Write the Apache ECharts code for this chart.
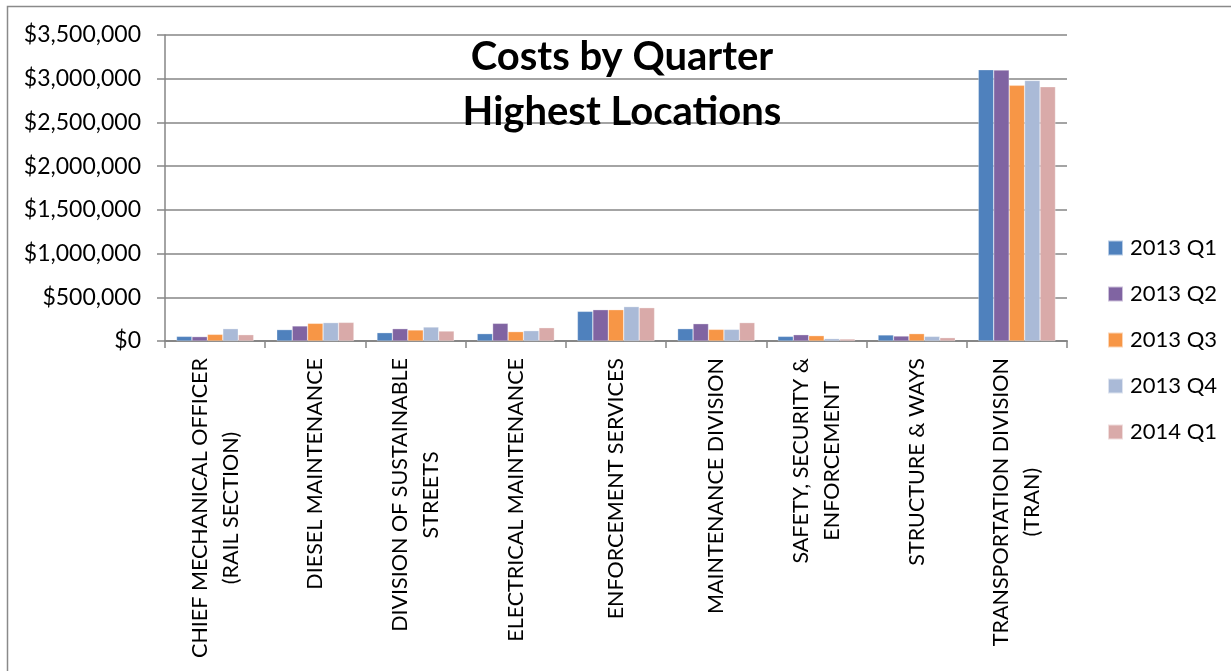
<!DOCTYPE html>
<html>
<head>
<meta charset="utf-8">
<script src="https://cdn.jsdelivr.net/npm/echarts@6/dist/echarts.min.js"></script>
<style>
html,body{margin:0;padding:0;background:#fff;}
#chart{width:1231px;height:671px;}
</style>
</head>
<body>
<div id="chart"></div>
<script>
const categories = [
  'CHIEF MECHANICAL OFFICER\n(RAIL SECTION)',
  'DIESEL MAINTENANCE',
  'DIVISION OF SUSTAINABLE\nSTREETS',
  'ELECTRICAL MAINTENANCE',
  'ENFORCEMENT SERVICES',
  'MAINTENANCE DIVISION',
  'SAFETY, SECURITY &\nENFORCEMENT',
  'STRUCTURE & WAYS',
  'TRANSPORTATION DIVISION\n(TRAN)'
];
const seriesNames = ['2013 Q1', '2013 Q2', '2013 Q3', '2013 Q4', '2014 Q1'];
const q1_2013 = [53000, 130000, 95000, 84000, 339000, 141000, 53000, 69000, 3103000];
const q2_2013 = [50000, 172000, 141000, 202000, 358000, 198000, 72000, 57000, 3099000];
const q3_2013 = [76000, 202000, 126000, 107000, 358000, 133000, 61000, 84000, 2924000];
const q4_2013 = [141000, 210000, 160000, 118000, 393000, 133000, 27000, 53000, 2980000];
const q1_2014 = [72000, 213000, 114000, 152000, 381000, 210000, 23000, 38000, 2908000];
const yMin = 0, yMax = 3500000, yInterval = 500000;
const titleText = 'Costs by Quarter\nHighest Locations';

const colors = ['#4F81BD', '#8064A2', '#F79646', '#AABAD7', '#D9AAA9'];
const allValues = [q1_2013, q2_2013, q3_2013, q4_2013, q1_2014];
const FONT = 'Lato, "Open Sans", sans-serif';

const chart = echarts.init(document.getElementById('chart'));
chart.setOption({
  animation: false,
  backgroundColor: '#fff',
  color: colors,
  graphic: [
    {
      type: 'rect', z: -10, silent: true,
      shape: { x: 7.5, y: 6.5, width: 1300, height: 700 },
      style: { fill: 'none', stroke: '#8a8a8a', lineWidth: 1.5 }
    },
    {
      type: 'text', z: 100, x: 622, y: 30,
      style: {
        text: titleText, fill: '#000', align: 'center', verticalAlign: 'top',
        font: 'bold 40px ' + FONT, lineHeight: 55
      }
    }
  ],
  legend: {
    orient: 'vertical',
    left: 1107, top: 237, padding: 0,
    itemWidth: 15, itemHeight: 15, itemGap: 24,
    icon: 'rect',
    textStyle: { fontFamily: FONT, fontSize: 22, color: '#000', padding: [0, 0, 0, 2] },
    data: seriesNames
  },
  grid: { left: 165, right: 164, top: 35, bottom: 330, containLabel: false },
  xAxis: {
    type: 'category',
    data: categories,
    axisLine: { lineStyle: { color: '#868686', width: 2 } },
    axisTick: { show: true, length: 7, alignWithLabel: false, lineStyle: { color: '#868686', width: 1.5 } },
    axisLabel: {
      interval: 0, rotate: 90, margin: 17,
      formatter: v => v.split('\n').map(s => '{c|' + s + '}').join('\n'),
      rich: { c: { align: 'center', fontFamily: FONT, fontSize: 21.5, lineHeight: 31, color: '#000' } }
    }
  },
  yAxis: {
    type: 'value',
    min: yMin, max: yMax, interval: yInterval,
    axisLine: { show: true, lineStyle: { color: '#868686', width: 1.5 } },
    axisTick: { show: true, length: 8, lineStyle: { color: '#868686', width: 1.5 } },
    splitLine: { lineStyle: { color: '#868686', width: 1.5 } },
    axisLabel: {
      margin: 24, fontFamily: FONT, fontSize: 23, color: '#000',
      formatter: v => '$' + v.toLocaleString('en-US')
    }
  },
  series: seriesNames.map((name, i) => ({
    name: name,
    type: 'bar',
    data: allValues[i],
    barGap: '0%',
    barCategoryGap: '23%',
    itemStyle: { color: colors[i], borderColor: 'rgba(255,255,255,0.6)', borderWidth: 0.5 }
  }))
});
</script>
</body>
</html>
